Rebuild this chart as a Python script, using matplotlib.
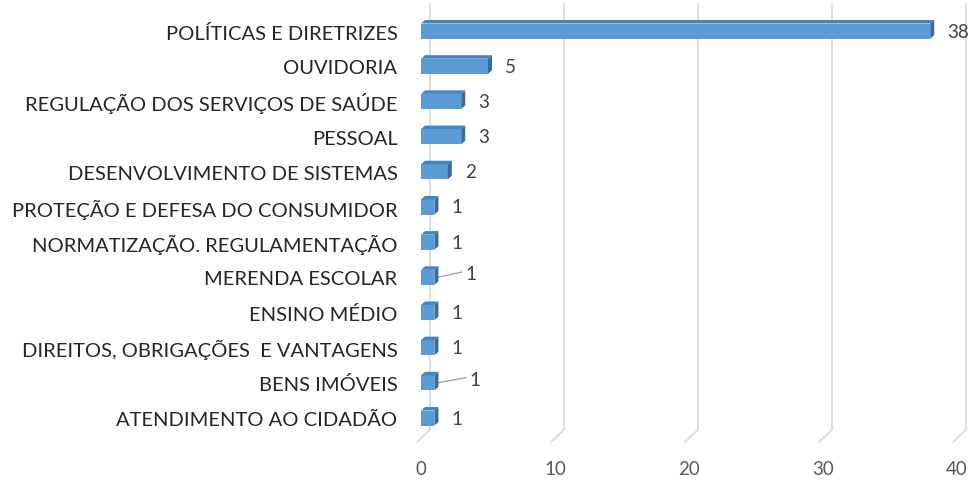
import matplotlib
matplotlib.use('Agg')
import matplotlib.pyplot as plt
from matplotlib.patches import Polygon

plt.rcParams['font.family'] = ['Lato', 'DejaVu Sans']

# Data
categories = ['POLÍTICAS E DIRETRIZES', 'OUVIDORIA', 'REGULAÇÃO DOS SERVIÇOS DE SAÚDE',
              'PESSOAL', 'DESENVOLVIMENTO DE SISTEMAS', 'PROTEÇÃO E DEFESA DO CONSUMIDOR',
              'NORMATIZAÇÃO. REGULAMENTAÇÃO', 'MERENDA ESCOLAR', 'ENSINO MÉDIO',
              'DIREITOS, OBRIGAÇÕES  E VANTAGENS', 'BENS IMÓVEIS', 'ATENDIMENTO AO CIDADÃO']
values = [38, 5, 3, 3, 2, 1, 1, 1, 1, 1, 1, 1]
xticks = [0, 10, 20, 30, 40]
leader = ['MERENDA ESCOLAR', 'BENS IMÓVEIS']

W, H = 968, 481
fig = plt.figure(figsize=(W / 100, H / 100), dpi=100)
# x: 0 -> 421px, 40 -> 957px ; y: top 5px, bottom 443px
ax = fig.add_axes([421 / W, 1 - 443 / H, (957 - 421) / W, (443 - 5) / H])
ax.set_xlim(0, 40)
ax.set_ylim(11.68, -0.77)

front = '#5b9bd5'
top = '#4a82bd'
side = '#3b6b9c'
h = 0.43     # bar thickness
ddx = 0.3    # bar depth in x (data units)
ddy = 0.1    # bar depth in y
gdx = 0.7    # back wall offset for gridlines

# back wall gridlines and floor
for t in xticks:
    ax.plot([t + gdx, t + gdx], [-0.77, 11.32], color='#d9d9d9', lw=1.2, clip_on=False, zorder=0)
    ax.plot([t - 0.3, t + gdx], [11.68, 11.32], color='#d9d9d9', lw=1.2, clip_on=False, zorder=0)

ys = list(range(len(categories)))
ax.barh(ys, values, height=h, color=front, zorder=3)
for y, v in zip(ys, values):
    y0 = y - h / 2
    ax.add_patch(Polygon([(0, y0), (v, y0), (v + ddx, y0 - ddy), (ddx, y0 - ddy)],
                         closed=True, facecolor=top, edgecolor='none', zorder=3))
    ax.add_patch(Polygon([(v, y0), (v, y0 + h), (v + ddx, y0 + h - ddy), (v + ddx, y0 - ddy)],
                         closed=True, facecolor=side, edgecolor='none', zorder=3))

for cat, y, v in zip(categories, ys, values):
    if cat in leader:
        # labels moved out with a leader line, as in the original
        lx = v + (2.3 if cat == 'MERENDA ESCOLAR' else 2.6)
        ly = y - 0.1
        ax.plot([v + 0.2, lx - 0.25], [y, ly - 0.05], color='#a6a6a6', lw=1, zorder=2)
        ax.text(lx, ly, str(v), ha='left', va='center', fontsize=13.5, color='#404040')
    else:
        ax.text(v + 1.27, y, str(v), ha='left', va='center', fontsize=13.5, color='#404040',
                clip_on=False)

ax.set_yticks(ys)
ax.set_yticklabels(categories, fontsize=14.5, color='#262626')
ax.set_xticks(xticks)
ax.set_xticklabels([str(t) for t in xticks], fontsize=13.5, color='#595959')
ax.tick_params(axis='y', length=0, pad=17)
ax.tick_params(axis='x', length=0, pad=13)
for s in ax.spines.values():
    s.set_visible(False)

fig.savefig('out.png', dpi=100)
